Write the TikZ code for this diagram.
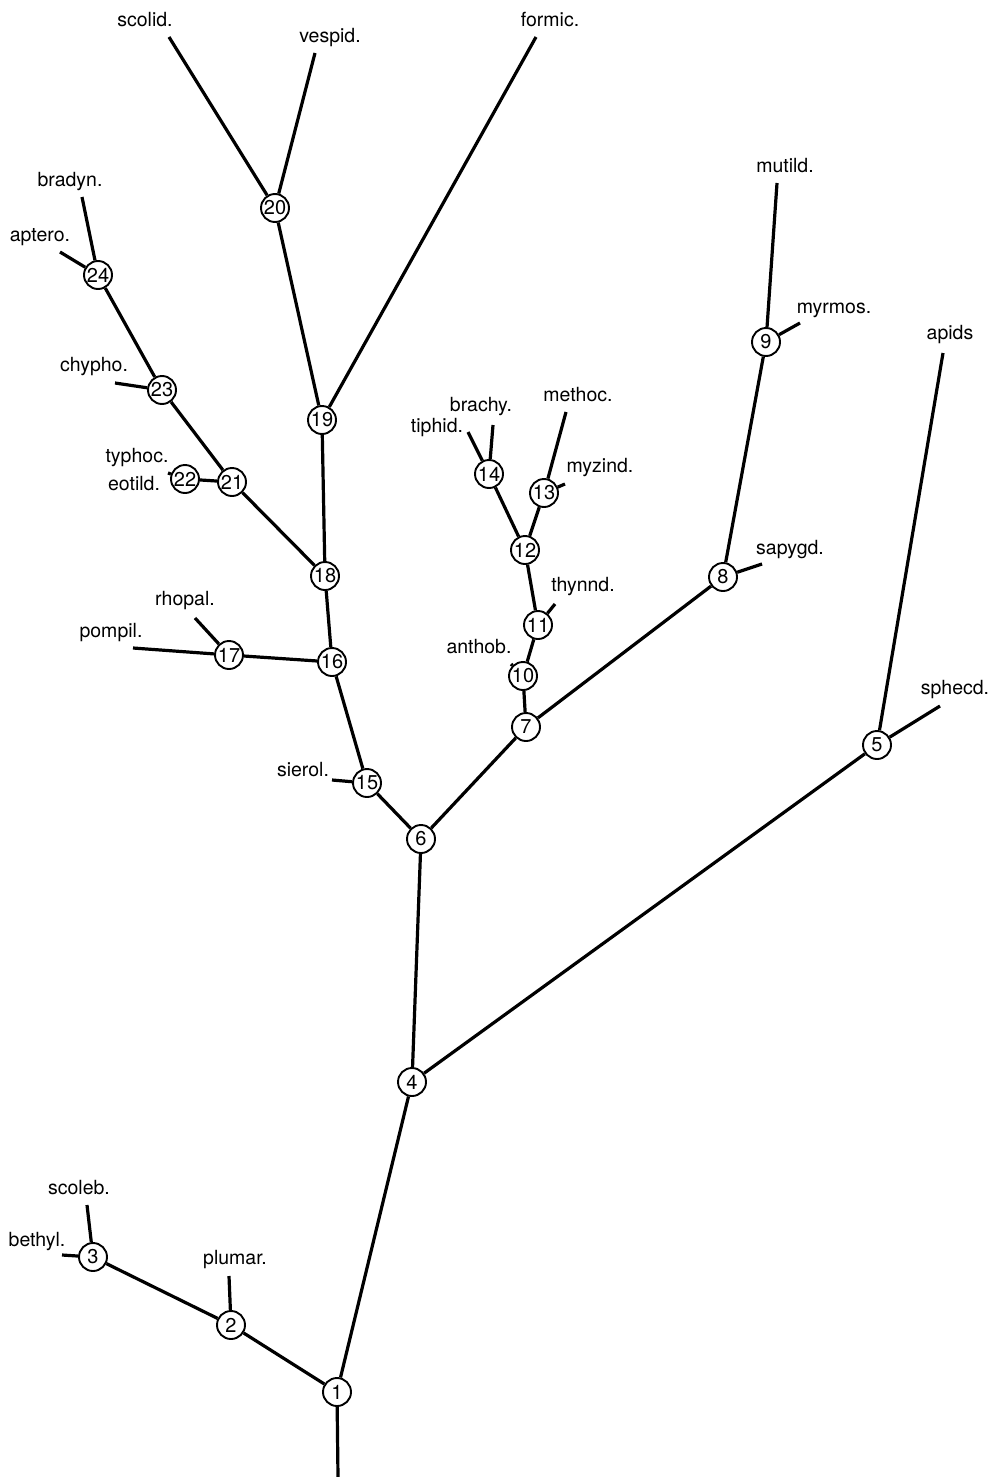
\documentclass[tikz,border=0pt]{standalone}
\usepackage{fontspec}
\setmainfont{TeX Gyre Heros}
\begin{document}
\begin{tikzpicture}[x=1pt,y=-1pt,
  br/.style={line width=3.2pt},
  nd/.style={circle,draw,line width=1.9pt,fill=white,minimum size=28pt,inner sep=0pt,font=\fontsize{20}{20}\selectfont},
  lab/.style={inner sep=0pt,font=\fontsize{19.5}{19.5}\selectfont}]
\useasboundingbox (0,0) rectangle (995,1477);
% internal nodes
\node[nd] (n1) at (337,1392) {1};
\node[nd] (n2) at (231,1325) {2};
\node[nd] (n3) at (93,1257) {3};
\node[nd] (n4) at (412,1082) {4};
\node[nd] (n5) at (877,745) {5};
\node[nd] (n6) at (421,839) {6};
\node[nd] (n7) at (526,727) {7};
\node[nd] (n8) at (723,577) {8};
\node[nd] (n9) at (766,342) {9};
\node[nd] (n10) at (523,676) {10};
\node[nd] (n11) at (538,625) {11};
\node[nd] (n12) at (525,550) {12};
\node[nd] (n13) at (544,493) {13};
\node[nd] (n14) at (489,474) {14};
\node[nd] (n15) at (367,783) {15};
\node[nd] (n16) at (332,662) {16};
\node[nd] (n17) at (229,655) {17};
\node[nd] (n18) at (325,576) {18};
\node[nd] (n19) at (322,420) {19};
\node[nd] (n20) at (275,208) {20};
\node[nd] (n21) at (232,482) {21};
\node[nd] (n22) at (185,479) {22};
\node[nd] (n23) at (162,390) {23};
\node[nd] (n24) at (98,275) {24};
% free ends
\coordinate (root) at (338,1477);
\coordinate (eScoleb) at (87,1205);
\coordinate (eBethyl) at (62,1255);
\coordinate (ePlumar) at (229,1276);
\coordinate (eSphecd) at (940,706);
\coordinate (eApids) at (943,353);
\coordinate (eMutild) at (777,183);
\coordinate (eMyrmos) at (800,323);
\coordinate (eSapygd) at (762,564);
\coordinate (eThynnd) at (555,604);
\coordinate (eAnthob) at (511,664);
\coordinate (eMyzind) at (565,484);
\coordinate (eMethoc) at (566,412);
\coordinate (eBrachy) at (493,425);
\coordinate (eTiphid) at (468,432);
\coordinate (eTyphoc) at (168,473);
\coordinate (eChypho) at (115,383);
\coordinate (eAptero) at (60,252);
\coordinate (eBradyn) at (82,197);
\coordinate (eScolid) at (169,37);
\coordinate (eVespid) at (315,53);
\coordinate (eFormic) at (536,37);
\coordinate (ePompil) at (133,648);
\coordinate (eRhopal) at (195,618);
\coordinate (eSierol) at (332,780);
% branches between nodes
\draw[br] (root) -- (n1);
\draw[br] (n1) -- (n2);
\draw[br] (n2) -- (n3);
\draw[br] (n1) -- (n4);
\draw[br] (n4) -- (n5);
\draw[br] (n4) -- (n6);
\draw[br] (n6) -- (n7);
\draw[br] (n6) -- (n15);
\draw[br] (n7) -- (n8);
\draw[br] (n7) -- (n10);
\draw[br] (n10) -- (n11);
\draw[br] (n11) -- (n12);
\draw[br] (n12) -- (n13);
\draw[br] (n12) -- (n14);
\draw[br] (n8) -- (n9);
\draw[br] (n15) -- (n16);
\draw[br] (n16) -- (n17);
\draw[br] (n16) -- (n18);
\draw[br] (n18) -- (n19);
\draw[br] (n18) -- (n21);
\draw[br] (n21) -- (n22);
\draw[br] (n21) -- (n23);
\draw[br] (n23) -- (n24);
\draw[br] (n19) -- (n20);
% branches to leaves
\draw[br] (n3) -- (eScoleb);
\draw[br] (n3) -- (eBethyl);
\draw[br] (n2) -- (ePlumar);
\draw[br] (n5) -- (eSphecd);
\draw[br] (n5) -- (eApids);
\draw[br] (n9) -- (eMutild);
\draw[br] (n9) -- (eMyrmos);
\draw[br] (n8) -- (eSapygd);
\draw[br] (n11) -- (eThynnd);
\draw[br] (n10) -- (eAnthob);
\draw[br] (n13) -- (eMyzind);
\draw[br] (n13) -- (eMethoc);
\draw[br] (n14) -- (eBrachy);
\draw[br] (n14) -- (eTiphid);
\draw[br] (n22) -- (eTyphoc);
\draw[br] (n23) -- (eChypho);
\draw[br] (n24) -- (eAptero);
\draw[br] (n24) -- (eBradyn);
\draw[br] (n20) -- (eScolid);
\draw[br] (n20) -- (eVespid);
\draw[br] (n19) -- (eFormic);
\draw[br] (n17) -- (ePompil);
\draw[br] (n17) -- (eRhopal);
\draw[br] (n15) -- (eSierol);
% labels
\node[lab] (lScolid) at (145,20) {scolid.};
\node[lab] (lVespid) at (330,38) {vespid.};
\node[lab] (lFormic) at (550,20) {formic.};
\node[lab] (lBradyn) at (70,182) {bradyn.};
\node[lab] (lAptero) at (40,237) {aptero.};
\node[lab] (lChypho) at (94,367) {chypho.};
\node[lab] (lTyphoc) at (137,458) {typhoc.};
\node[lab] (lEotild) at (134,484) {eotild.};
\node[lab] (lTiphid) at (437,428) {tiphid.};
\node[lab] (lBrachy) at (481,407) {brachy.};
\node[lab] (lMethoc) at (578,395) {methoc.};
\node[lab] (lMyzind) at (600,468) {myzind.};
\node[lab] (lThynnd) at (583,587) {thynnd.};
\node[lab] (lAnthob) at (479,647) {anthob.};
\node[lab] (lPompil) at (111,633) {pompil.};
\node[lab] (lRhopal) at (185,601) {rhopal.};
\node[lab] (lSierol) at (303,770) {sierol.};
\node[lab] (lScoleb) at (79,1188) {scoleb.};
\node[lab] (lBethyl) at (37,1242) {bethyl.};
\node[lab] (lPlumar) at (235,1260) {plumar.};
\node[lab] (lMutild) at (785,166) {mutild.};
\node[lab] (lMyrmos) at (834,310) {myrmos.};
\node[lab] (lApids) at (950,335) {apids};
\node[lab] (lSapygd) at (790,550) {sapygd.};
\node[lab] (lSphecd) at (955,690) {sphecd.};
\end{tikzpicture}
\end{document}
